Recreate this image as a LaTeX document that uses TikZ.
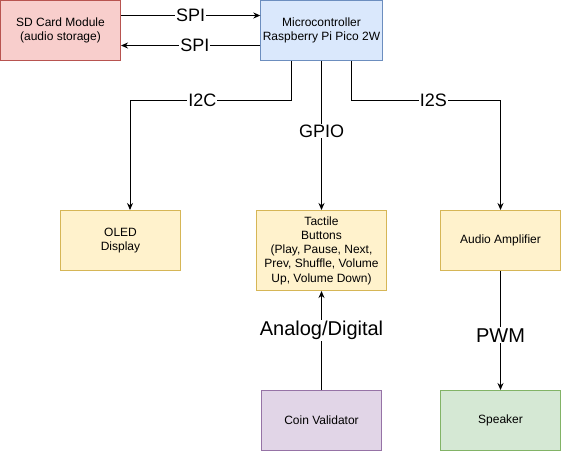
\documentclass[tikz,border=0pt]{standalone}
\usepackage{fontspec}
\setmainfont{Liberation Sans}
\usetikzlibrary{arrows.meta}
\definecolor{redF}{HTML}{F8CECC}\definecolor{redD}{HTML}{B85450}
\definecolor{bluF}{HTML}{DAE8FC}\definecolor{bluD}{HTML}{6C8EBF}
\definecolor{yelF}{HTML}{FFF2CC}\definecolor{yelD}{HTML}{D6B656}
\definecolor{purF}{HTML}{E1D5E7}\definecolor{purD}{HTML}{9673A6}
\definecolor{grnF}{HTML}{D5E8D4}\definecolor{grnD}{HTML}{82B366}
\tikzset{
  box/.style={rectangle, draw, line width=1pt, minimum width=120pt, minimum height=60pt, inner sep=2pt, align=center, font=\fontsize{12}{14.2}\selectfont},
  arr/.style={line width=1pt, -{Stealth[length=7pt,width=6pt]}},
  lbl/.style={fill=white, inner sep=1pt, font=\fontsize{18}{20}\selectfont},
  lblb/.style={fill=white, inner sep=1pt, font=\fontsize{20}{22}\selectfont},
}
\begin{document}
\begin{tikzpicture}[x=1pt,y=-1pt]
\useasboundingbox (0,0) rectangle (561,451);
\node[box, fill=redF, draw=redD] (sd) at (60.5,30.5) {SD Card Module\\(audio storage)};
\node[box, fill=bluF, draw=bluD] (mc) at (321.5,30.5) {Microcontroller\\Raspberry Pi Pico 2W};
\node[box, fill=yelF, draw=yelD] (oled) at (120.5,240.5) {OLED\\Display};
\node[box, fill=yelF, draw=yelD, minimum width=130pt, minimum height=80pt] (btn) at (321.5,250.5) {Tactile\\Buttons\\(Play, Pause, Next,\\Prev, Shuffle, Volume\\Up, Volume Down)};
\node[box, fill=yelF, draw=yelD] (amp) at (500.5,240.5) {Audio Amplifier};
\node[box, fill=purF, draw=purD] (coin) at (321.5,420.5) {Coin Validator};
\node[box, fill=grnF, draw=grnD] (spk) at (500.5,420.5) {Speaker};

\draw[arr] ([yshift=15pt]sd.east) -- node[lbl, pos=0.5] {SPI} ([yshift=15pt]mc.west);
\draw[arr] ([yshift=-15pt]mc.west) -- node[lbl, pos=0.47] {SPI} ([yshift=-15pt]sd.east);
\draw[arr] ([xshift=-30pt]mc.south) -- ++(0,39.5) -| node[lbl, pos=0.276] {I2C} ([xshift=9.5pt]oled.north);
\draw[arr] (mc.south) -- node[lbl, pos=0.47] {GPIO} (btn.north);
\draw[arr] ([xshift=30pt]mc.south) -- ++(0,39.5) -| node[lbl, pos=0.275] {I2S} (amp.north);
\draw[arr] (coin.north) -- node[lblb, pos=0.6] {Analog/Digital} (btn.south);
\draw[arr] (amp.south) -- node[lblb, pos=0.54] {PWM} (spk.north);
\end{tikzpicture}
\end{document}
